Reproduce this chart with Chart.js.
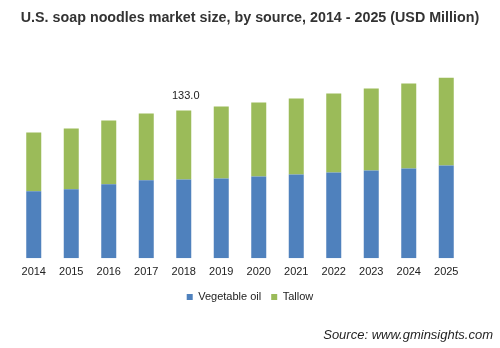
<!DOCTYPE html>
<html>
<head>
<meta charset="utf-8">
<script src="https://cdn.jsdelivr.net/npm/chart.js@4"></script>
<style>
    html, body { margin: 0; padding: 0; background: #fff; }
    #wrap { width: 500px; height: 348px; }
</style>
</head>
<body>
<div id="wrap"><canvas id="soapChart" width="500" height="348"></canvas></div>
<script>
// Data (USD Million)
const years = ['2014', '2015', '2016', '2017', '2018', '2019', '2020', '2021', '2022', '2023', '2024', '2025'];
const vegetableOil = [60.2, 62.0, 66.5, 70.1, 71.0, 71.9, 73.7, 75.5, 77.3, 79.1, 80.9, 83.6];
const tallow = [53.0, 54.8, 57.5, 60.2, 62.0, 64.7, 66.5, 68.3, 71.0, 73.7, 76.4, 79.0];
const labelledYear = '2018';

const FONT = "'Liberation Sans', Arial, sans-serif";

// total value label above one bar
const totalLabel = {
    id: 'totalLabel',
    afterDatasetsDraw(chart) {
        const i = years.indexOf(labelledYear);
        const top = chart.getDatasetMeta(1).data[i];
        const total = vegetableOil[i] + tallow[i];
        const ctx = chart.ctx;
        ctx.save();
        ctx.font = '11px ' + FONT;
        ctx.fillStyle = '#222';
        ctx.textAlign = 'center';
        ctx.textBaseline = 'middle';
        ctx.fillText(total.toFixed(1), top.x + 2, top.y - 15);
        ctx.restore();
    }
};

const ctx = document.getElementById('soapChart').getContext('2d');
const chart = new Chart(ctx, {
    type: 'bar',
    data: {
        labels: years,
        datasets: [
            { label: 'Vegetable oil', data: vegetableOil, backgroundColor: '#4f81bd' },
            { label: 'Tallow', data: tallow, backgroundColor: '#9bbb59' }
        ]
    },
    options: {
        responsive: false,
        animation: false,
        layout: { padding: { left: 7, right: 7, top: 0, bottom: 0 } },
        datasets: {
            bar: { categoryPercentage: 1, barPercentage: 0.4 }
        },
        plugins: {
            title: {
                display: true,
                text: 'U.S. soap noodles market size, by source, 2014 - 2025 (USD Million)',
                color: '#333',
                font: { family: FONT, size: 14.3, weight: 'bold' },
                padding: { top: 9, bottom: 10 }
            },
            subtitle: {
                display: true,
                position: 'bottom',
                align: 'end',
                text: 'Source: www.gminsights.com',
                color: '#1f1f1f',
                font: { family: FONT, size: 13, style: 'italic' },
                padding: { top: 15, bottom: 5 }
            },
            legend: {
                position: 'bottom',
                labels: {
                    boxWidth: 6,
                    boxHeight: 6,
                    padding: 10,
                    color: '#222',
                    font: { family: FONT, size: 11 }
                }
            },
            tooltip: { enabled: false }
        },
        scales: {
            x: {
                stacked: true,
                grid: { display: false, drawTicks: false },
                border: { display: false },
                ticks: { color: '#222', padding: 7, font: { family: FONT, size: 11 } },
                afterFit: scale => { scale.height = scale.height - 4; }
            },
            y: {
                stacked: true,
                min: 0,
                max: 200,
                grid: { display: false, drawTicks: false },
                border: { display: false },
                ticks: { display: false },
                afterFit: scale => { scale.width = 8; }
            },
            yRight: {
                position: 'right',
                grid: { display: false, drawTicks: false },
                border: { display: false },
                ticks: { display: false },
                afterFit: scale => { scale.width = 28; }
            }
        }
    },
    plugins: [totalLabel]
});
</script>
</body>
</html>
